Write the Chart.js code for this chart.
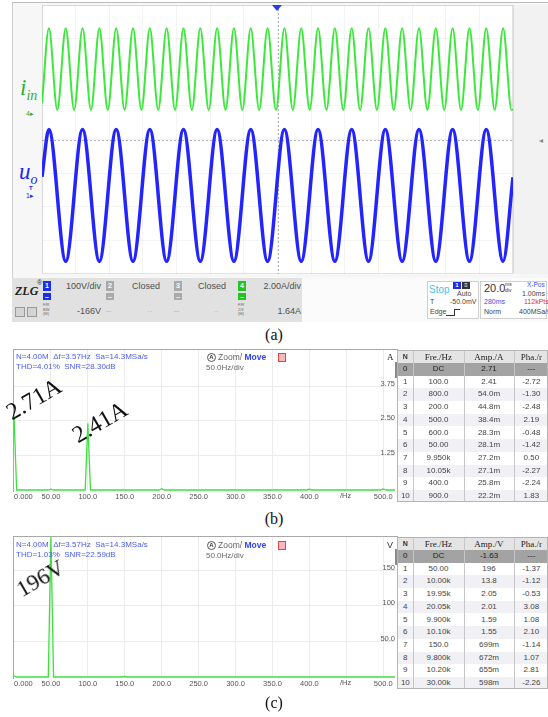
<!DOCTYPE html>
<html>
<head>
<meta charset="utf-8">
<title>Input current / output voltage waveforms and spectra</title>
<script src="https://cdn.jsdelivr.net/npm/chart.js@4.4.1/dist/chart.umd.min.js"></script>
<style>
  body { margin: 0; width: 548px; height: 717px; position: relative; overflow: hidden; background: #fff;
         font-family: "Liberation Sans", Arial, sans-serif; }
  .a { position: absolute; white-space: nowrap; line-height: 1; }
  canvas { position: absolute; }
  .cap { font-family: "Liberation Serif", "Times New Roman", serif; font-size: 16px; color: #111; width: 548px; text-align: center; left: 0; }
  .bar { font-size: 9px; color: #505050; }
  .sm { font-size: 7px; color: #444; }
  .hdr { font-size: 8px; color: #4a5cf0; }
  .note { font-family: "Liberation Serif", "Times New Roman", serif; color: #111; transform-origin: 0 100%; transform: rotate(-30deg); }
  .sq { position: absolute; color: #fff; font-size: 7px; text-align: center; line-height: 9px; font-weight: bold; }
  .tiny { font-size: 4px; color: #666; line-height: 4.5px; }
  .tcell { position: absolute; text-align: center; font-size: 8px; color: #444; }
  .box { position: absolute; box-sizing: border-box; }
</style>
</head>
<body>

<!-- oscilloscope window -->
<div class="box" style="left:12px;top:2px;width:536px;height:320px;border-top:1px solid #bdbdbd;border-left:1px solid #d0d0d0;background:#f7f7f7"></div>
<div class="box" style="left:42px;top:5px;width:471px;height:269px;background:#fff;border:1px solid #e2e2e2"></div>
<div class="box" style="left:513px;top:5px;width:35px;height:269px;background:#f2f2f2;border-left:1px solid #dadada"></div>
<canvas id="scope" width="471" height="269" style="left:42px;top:5px"></canvas>
<div class="box" style="left:272px;top:5px;width:0;height:0;border-left:5px solid transparent;border-right:5px solid transparent;border-top:6px solid #2a3cf0"></div>
<div class="a" style="left:539px;top:137px;font-size:8px;color:#888">◂</div>

<div class="a" style="left:20px;top:76px;font-family:'Liberation Serif',serif;font-style:italic;font-size:23px;color:#2fae2f">i<span style="font-size:14px;position:relative;top:5px">in</span></div>
<div class="a" style="left:26px;top:110px;font-size:7px;color:#2fae2f">4▸</div>
<div class="a" style="left:19px;top:160px;font-family:'Liberation Serif',serif;font-style:italic;font-size:23px;color:#2424e8">u<span style="font-size:14px;position:relative;top:5px">o</span></div>
<div class="a" style="left:29px;top:185px;font-size:6px;color:#2424e8;font-weight:bold">T</div>
<div class="a" style="left:26px;top:192px;font-size:7px;color:#2424e8">1▸</div>

<!-- status bar -->
<div class="box" style="left:12px;top:278px;width:290px;height:44px;background:#e1e1e1"></div>
<div class="box" style="left:302px;top:278px;width:246px;height:44px;background:#fbfbfb"></div>
<div class="a" style="left:15px;top:285px;font-family:'Liberation Serif',serif;font-style:italic;font-weight:bold;font-size:12px;color:#222">ZLG</div>
<div class="a" style="left:37px;top:279px;font-size:7px;color:#333">®</div>
<div class="box" style="left:15px;top:307px;width:10px;height:10px;border:1px solid #9a9a9a;background:#d4d4d4"></div>
<div class="box" style="left:27px;top:307px;width:10px;height:10px;border:1px solid #9a9a9a;background:#d4d4d4"></div>

<div class="sq" style="left:43px;top:281px;width:8px;height:10px;background:#1d2ee8">1</div>
<div class="sq" style="left:43px;top:293px;width:8px;height:7px;line-height:7px;background:#1d2ee8">–</div>
<div class="a tiny" style="left:43px;top:303px">FIR<br>BW<br>(M)</div>
<div class="a bar" style="left:60px;top:282px;width:41px;text-align:right">100V/div</div>
<div class="a bar" style="left:60px;top:307px;width:41px;text-align:right">-166V</div>

<div class="sq" style="left:106px;top:281px;width:8px;height:10px;background:#a9a9a9">2</div>
<div class="sq" style="left:106px;top:293px;width:8px;height:7px;line-height:7px;background:#a9a9a9">–</div>
<div class="a tiny" style="left:106px;top:309px">----</div>
<div class="a bar" style="left:132px;top:282px">Closed</div>
<div class="a tiny" style="left:148px;top:309px">- -</div>

<div class="sq" style="left:174px;top:281px;width:8px;height:10px;background:#a9a9a9">3</div>
<div class="sq" style="left:174px;top:293px;width:8px;height:7px;line-height:7px;background:#a9a9a9">–</div>
<div class="a tiny" style="left:174px;top:309px">----</div>
<div class="a bar" style="left:198px;top:282px">Closed</div>
<div class="a tiny" style="left:214px;top:309px">- -</div>

<div class="sq" style="left:238px;top:281px;width:8px;height:10px;background:#22c422">4</div>
<div class="sq" style="left:238px;top:293px;width:8px;height:7px;line-height:7px;background:#22c422">–</div>
<div class="a tiny" style="left:238px;top:303px">FIR<br>2/3<br>(M)</div>
<div class="a bar" style="left:250px;top:282px;width:51px;text-align:right">2.00A/div</div>
<div class="a bar" style="left:250px;top:307px;width:51px;text-align:right">1.64A</div>

<div class="box" style="left:427px;top:281px;width:52px;height:38px;border:1px solid #d0d0d0;background:#fff"></div>
<div class="a" style="left:429px;top:285px;font-size:10px;color:#3cc6f0">Stop</div>
<div class="sq" style="left:453px;top:282px;width:8px;height:7px;line-height:7px;font-size:6px;background:#1d2ee8">1</div>
<div class="sq" style="left:462px;top:282px;width:8px;height:7px;line-height:7px;font-size:6px;background:#333">≡</div>
<div class="a sm" style="left:457px;top:290px">Auto</div>
<div class="a sm" style="left:430px;top:298px">T</div>
<div class="a sm" style="left:450px;top:298px">-50.0mV</div>
<div class="a sm" style="left:430px;top:308px">Edge</div>
<div class="box" style="left:446px;top:315px;width:8px;border-top:1px solid #333"></div>
<div class="box" style="left:454px;top:309px;width:6px;height:7px;border-top:1px solid #333;border-left:1px solid #333"></div>

<div class="box" style="left:480px;top:281px;width:67px;height:38px;border:1px solid #d0d0d0;background:#fff"></div>
<div class="a" style="left:484px;top:283px;font-size:11px;color:#333">20.0</div>
<div class="a" style="left:505px;top:282px;font-size:5px;color:#333">ms</div>
<div class="a" style="left:505px;top:288px;font-size:5px;color:#333">div</div>
<div class="a" style="left:527px;top:282px;font-size:6.5px;color:#3355ee">X-Pos</div>
<div class="a sm" style="left:522px;top:290px">1.00ms</div>
<div class="a sm" style="left:484px;top:298px;color:#3355ee">280ms</div>
<div class="a sm" style="left:524px;top:298px;color:#e03030">112kPts</div>
<div class="a sm" style="left:484px;top:308px">Norm</div>
<div class="a sm" style="left:519px;top:308px">400MSa/s</div>

<div class="a cap" style="top:327px">(a)</div>

<!-- spectrum of the input current -->
<div class="box" style="left:13px;top:349px;width:385px;height:143px;border:1px solid #a8a8a8;border-bottom:none"></div>
<div class="box" style="left:395px;top:362px;width:3px;height:16px;background:#8a8a8a"></div>
<canvas id="ampSpec" width="398" height="152" style="left:0;top:350px"></canvas>
<div class="a hdr" style="left:16px;top:353px">N=4.00M&nbsp; Δf=3.57Hz&nbsp; Sa=14.3MSa/s</div>
<div class="a hdr" style="left:16px;top:363px">THD=4.01%&nbsp; SNR=28.30dB</div>
<div class="box" style="left:207px;top:353px;width:9px;height:9px;border:1px solid #555;border-radius:50%;font-size:6px;line-height:7px;text-align:center;color:#333;font-weight:bold">A</div>
<div class="a" style="left:218px;top:353px;font-size:8.5px;color:#666">Zoom/ <span style="color:#3344ee;font-weight:bold">Move</span></div>
<div class="box" style="left:278px;top:353px;width:8px;height:9px;border:1px solid #d44;background:#f7b8c0"></div>
<div class="a" style="left:206px;top:364px;font-size:8px;color:#666">50.0Hz/div</div>
<div class="a" style="left:387px;top:353px;font-family:'Liberation Serif',serif;font-size:9px;color:#222">A</div>
<div class="a" style="left:340px;top:492px;font-size:7.5px;color:#555">/Hz</div>
<div class="a note" style="left:14px;top:400px;font-size:24px;line-height:24px">2.71A</div>
<div class="a note" style="left:80px;top:423px;font-size:24px;line-height:24px">2.41A</div>
<div class="a cap" style="top:511px">(b)</div>

<!-- spectrum of the output voltage -->
<div class="box" style="left:13px;top:536px;width:385px;height:143px;border:1px solid #a8a8a8;border-bottom:none"></div>
<div class="box" style="left:395px;top:549px;width:3px;height:16px;background:#8a8a8a"></div>
<canvas id="voltSpec" width="398" height="152" style="left:0;top:537px"></canvas>
<div class="a hdr" style="left:16px;top:541px">N=4.00M&nbsp; Δf=3.57Hz&nbsp; Sa=14.3MSa/s</div>
<div class="a hdr" style="left:16px;top:551px">THD=1.03%&nbsp; SNR=22.59dB</div>
<div class="box" style="left:207px;top:541px;width:9px;height:9px;border:1px solid #555;border-radius:50%;font-size:6px;line-height:7px;text-align:center;color:#333;font-weight:bold">A</div>
<div class="a" style="left:218px;top:541px;font-size:8.5px;color:#666">Zoom/ <span style="color:#3344ee;font-weight:bold">Move</span></div>
<div class="box" style="left:278px;top:541px;width:8px;height:9px;border:1px solid #d44;background:#f7b8c0"></div>
<div class="a" style="left:206px;top:552px;font-size:8px;color:#666">50.0Hz/div</div>
<div class="a" style="left:387px;top:541px;font-size:9px;color:#333">V</div>
<div class="a" style="left:340px;top:679px;font-size:7.5px;color:#555">/Hz</div>
<div class="a note" style="left:24px;top:578px;font-size:23px;line-height:23px">196V</div>
<div class="a cap" style="top:695px">(c)</div>

<script>
// Scope traces: turning points of each waveform, time in ms across 14 div at 20 ms/div.
const iinTime = [0, 4.1, 9.1, 14.1, 19.1, 24.1, 29.1, 34.1, 39.1, 44.1, 49.1, 54.1, 59.1, 64.1, 69.1,
  74.1, 79.1, 84.1, 89.1, 94.1, 99.1, 104.1, 109.1, 114.1, 119.1, 124.1, 129.1, 134.1, 139.1,
  144.1, 149.1, 154.1, 159.1, 164.1, 169.1, 174.1, 179.1, 184.1, 189.1, 194.1, 199.1, 204.1, 209.1,
  214.1, 219.1, 224.1, 229.1, 234.1, 239.1, 244.1, 249.1, 254.1, 259.1, 264.1, 269.1, 274.1, 279.1, 280];
const iinAmps = [0.5, 4.98, 0.12, 4.98, 0.12, 4.98, 0.12, 4.98, 0.12, 4.98, 0.12, 4.98, 0.12, 4.98, 0.12,
  4.98, 0.12, 4.98, 0.12, 4.98, 0.12, 4.98, 0.12, 4.98, 0.12, 4.98, 0.12, 4.98, 0.12,
  4.98, 0.12, 4.98, 0.12, 4.98, 0.12, 4.98, 0.12, 4.98, 0.12, 4.98, 0.12, 4.98, 0.12,
  4.98, 0.12, 4.98, 0.12, 4.98, 0.12, 4.98, 0.12, 4.98, 0.12, 4.98, 0.12, 4.98, 0.12, 0.15];
const uoTime = [0, 4.1, 14.1, 24.1, 34.1, 44.1, 54.1, 64.1, 74.1, 84.1, 94.1, 104.1, 114.1, 124.1, 134.1,
  144.1, 154.1, 164.1, 174.1, 184.1, 194.1, 204.1, 214.1, 224.1, 234.1, 244.1, 254.1, 264.1, 274.1, 280];
const uoVolts = [55, 196, -196, 196, -196, 196, -196, 196, -196, 196, -196, 196, -196, 196, -196,
  196, -196, 196, -196, 196, -196, 196, -196, 196, -196, 196, -196, 196, -196, 54];

// channel settings shown in the status bar
const msPerDiv = 20, voltsPerDiv = 100, uoOffset = -166, ampsPerDiv = 2, iinOffset = 1.64;

// FFT result tables (harmonic 0..10)
const harmonicNo = [0, 1, 2, 3, 4, 5, 6, 7, 8, 9, 10];
const iinFreq = ['DC', '100.0', '800.0', '200.0', '500.0', '600.0', '50.00', '9.950k', '10.05k', '400.0', '900.0'];
const iinAmp = ['2.71', '2.41', '54.0m', '44.8m', '38.4m', '28.3m', '28.1m', '27.2m', '27.1m', '25.8m', '22.2m'];
const iinPha = ['---', '-2.72', '-1.30', '-2.48', '2.19', '-0.48', '-1.42', '0.50', '-2.27', '-2.24', '1.83'];
const uoFreq = ['DC', '50.00', '10.00k', '19.95k', '20.05k', '9.900k', '10.10k', '150.0', '9.800k', '10.20k', '30.00k'];
const uoAmp = ['-1.63', '196', '13.8', '2.05', '2.01', '1.59', '1.55', '699m', '672m', '655m', '598m'];
const uoPha = ['---', '-1.37', '-1.12', '-0.53', '3.08', '1.08', '2.10', '-1.14', '1.07', '2.81', '-2.26'];

// spectrum axes
const deltaF = 3.57;
const hzMax = 516;
const hzTicks = [0, 50, 100, 150, 200, 250, 300, 350, 400, 450, 500, hzMax];
const ampTicks = [0, 1.25, 2.5, 3.75];
const voltTicks = [0, 50, 100, 150];

function parseSI(s) {
  if (s === 'DC') return 0;
  const m = s.match(/^(-?[\d.]+)([km]?)$/);
  let v = parseFloat(m[1]);
  if (m[2] === 'k') v *= 1000;
  if (m[2] === 'm') v /= 1000;
  return v;
}

// the 450 Hz slot carries the unit instead of a number
function hzLabel(v) {
  if (v === 0) return '0.000';
  if (v === 50) return '50.00';
  if (v === 450 || v === hzMax) return '';
  return v.toFixed(1);
}

// each harmonic inside the window becomes a one-bin-wide spectral line
function spectrumLine(freqs, amps) {
  const lines = freqs.map((f, i) => ({ f: parseSI(f), a: Math.abs(parseSI(amps[i])) }))
    .filter(h => h.f <= hzMax)
    .sort((p, q) => p.f - q.f);
  const pts = [];
  lines.forEach(h => {
    if (h.f === 0) pts.push({ x: 0, y: h.a }, { x: deltaF, y: 0 });
    else pts.push({ x: h.f - deltaF, y: 0 }, { x: h.f, y: h.a }, { x: h.f + deltaF, y: 0 });
  });
  pts.push({ x: hzMax, y: 0 });
  return pts;
}

const centerCross = {
  id: 'centerCross',
  beforeDatasetsDraw(chart) {
    const { ctx, chartArea: a, scales } = chart;
    const cx = scales.x.getPixelForValue(7 * msPerDiv);
    const cy = scales.gridY.getPixelForValue(0);
    ctx.save();
    ctx.strokeStyle = '#b0b0b0';
    ctx.lineWidth = 1;
    ctx.setLineDash([2, 2]);
    ctx.beginPath();
    ctx.moveTo(Math.round(cx) + 0.5, a.top);
    ctx.lineTo(Math.round(cx) + 0.5, a.bottom);
    ctx.moveTo(a.left, Math.round(cy) + 0.5);
    ctx.lineTo(a.right, Math.round(cy) + 0.5);
    ctx.stroke();
    ctx.restore();
  }
};

new Chart(document.getElementById('scope'), {
  type: 'line',
  data: {
    datasets: [
      { data: iinTime.map((t, i) => ({ x: t, y: iinAmps[i] })), yAxisID: 'yA',
        borderColor: '#3be83b', borderWidth: 2, pointRadius: 0, cubicInterpolationMode: 'monotone' },
      { data: uoTime.map((t, i) => ({ x: t, y: uoVolts[i] })), yAxisID: 'yV',
        borderColor: '#2424ff', borderWidth: 3.5, pointRadius: 0, cubicInterpolationMode: 'monotone' }
    ]
  },
  options: {
    animation: false,
    responsive: false,
    layout: { padding: 0 },
    plugins: { legend: { display: false }, tooltip: { enabled: false } },
    scales: {
      x: { type: 'linear', min: 0, max: 14 * msPerDiv,
        ticks: { display: false, stepSize: msPerDiv },
        grid: { color: 'rgba(0,0,0,0.045)', drawTicks: false },
        border: { display: false },
        afterFit: s => { s.height = 0; s.paddingLeft = 0; s.paddingRight = 0; } },
      gridY: { type: 'linear', axis: 'y', position: 'left', min: -4, max: 4,
        ticks: { display: false, stepSize: 1 },
        grid: { color: 'rgba(0,0,0,0.045)', drawTicks: false },
        border: { display: false },
        afterFit: s => { s.width = 0; s.paddingTop = 0; s.paddingBottom = 0; } },
      yV: { type: 'linear', display: false, min: -uoOffset - 4 * voltsPerDiv, max: -uoOffset + 4 * voltsPerDiv },
      yA: { type: 'linear', display: false, min: -iinOffset - 4 * ampsPerDiv, max: -iinOffset + 4 * ampsPerDiv }
    }
  },
  plugins: [centerCross]
});

function spectrumChart(id, freqs, amps, yMax, yTicks, yFmt) {
  new Chart(document.getElementById(id), {
    type: 'line',
    data: {
      datasets: [{ data: spectrumLine(freqs, amps), borderColor: '#3ee03e', borderWidth: 1.3,
        pointRadius: 0, tension: 0, clip: { left: 1, right: 0, top: 0, bottom: 2 } }]
    },
    options: {
      animation: false,
      responsive: false,
      layout: { padding: { left: 14, right: 3, top: 0, bottom: 0 } },
      plugins: { legend: { display: false }, tooltip: { enabled: false } },
      scales: {
        x: { type: 'linear', min: 0, max: hzMax,
          afterBuildTicks: s => { s.ticks = hzTicks.map(v => ({ value: v })); },
          afterFit: s => { s.height = 12; s.paddingLeft = 0; s.paddingRight = 0; },
          ticks: { autoSkip: false, maxRotation: 0, align: 'inner', padding: 2, color: '#555',
            font: { size: 7.5 }, callback: v => hzLabel(v) },
          grid: { color: c => (c.tick && c.tick.value > 0 && c.tick.value <= 500) ? '#ececec' : 'rgba(0,0,0,0)', drawTicks: false },
          border: { display: false } },
        y: { type: 'linear', position: 'right', min: 0, max: yMax,
          afterBuildTicks: s => { s.ticks = yTicks.map(v => ({ value: v })); },
          afterFit: s => { s.width = 0; s.paddingTop = 0; s.paddingBottom = 0; },
          ticks: { mirror: true, padding: 0, labelOffset: -2.5, color: '#555', font: { size: 7.5 },
            callback: v => v === 0 ? '' : yFmt(v) },
          grid: { color: c => (c.tick && c.tick.value > 0) ? '#ececec' : 'rgba(0,0,0,0)', drawTicks: false },
          border: { display: false } }
      }
    }
  });
}

spectrumChart('ampSpec', iinFreq, iinAmp, 5.05, ampTicks, v => v.toFixed(2));
spectrumChart('voltSpec', uoFreq, uoAmp, 196.5, voltTicks, v => v === 50 ? '50.0' : String(v));

// harmonic tables beside each spectrum
function buildTable(top, ampHead, freqs, amps, phases) {
  const edges = [0, 14.7, 66.3, 115.7, 151];
  const headH = 12, rowH = 12.7;
  const frame = document.createElement('div');
  frame.className = 'box';
  frame.style.cssText = `left:397px;top:${top}px;width:151px;height:${headH + 11 * rowH}px;border:1px solid #b4b4b4;background:#fff;overflow:hidden`;
  document.body.appendChild(frame);

  const cell = (col, y, h, text, css) => {
    const d = document.createElement('div');
    d.className = 'tcell';
    d.style.cssText = `left:${edges[col]}px;top:${y}px;width:${edges[col + 1] - edges[col]}px;height:${h}px;line-height:${h}px;` + (css || '');
    d.textContent = text;
    frame.appendChild(d);
  };
  const band = (y, h, color) => {
    const d = document.createElement('div');
    d.className = 'box';
    d.style.cssText = `left:0;top:${y}px;width:151px;height:${h}px;background:${color}`;
    frame.appendChild(d);
  };

  band(0, headH, '#e4e4e4');
  harmonicNo.forEach(n => {
    const y = headH + n * rowH;
    band(y, rowH, n === 0 ? '#a3a3a3' : (n % 2 === 0 ? '#f1f1f5' : '#ffffff'));
  });
  [1, 2, 3].forEach(c => {
    const d = document.createElement('div');
    d.className = 'box';
    d.style.cssText = `left:${edges[c]}px;top:0;width:0;height:100%;border-left:1px solid #c6c6c6`;
    frame.appendChild(d);
  });

  const serif = 'font-family:"Liberation Serif",serif;font-size:9px;color:#222;';
  cell(0, 0, headH, 'N', 'font-size:7px;font-weight:bold;color:#333;');
  cell(1, 0, headH, 'Fre./Hz', serif);
  cell(2, 0, headH, ampHead, serif);
  cell(3, 0, headH, 'Pha./r', serif);
  harmonicNo.forEach(n => {
    const y = headH + n * rowH;
    const dark = n === 0 ? 'color:#222;' : '';
    cell(0, y, rowH, String(n), dark);
    cell(1, y, rowH, freqs[n], dark);
    cell(2, y, rowH, amps[n], dark);
    cell(3, y, rowH, phases[n], dark);
  });
}

buildTable(350, 'Amp./A', iinFreq, iinAmp, iinPha);
buildTable(537, 'Amp./V', uoFreq, uoAmp, uoPha);
</script>
</body>
</html>
